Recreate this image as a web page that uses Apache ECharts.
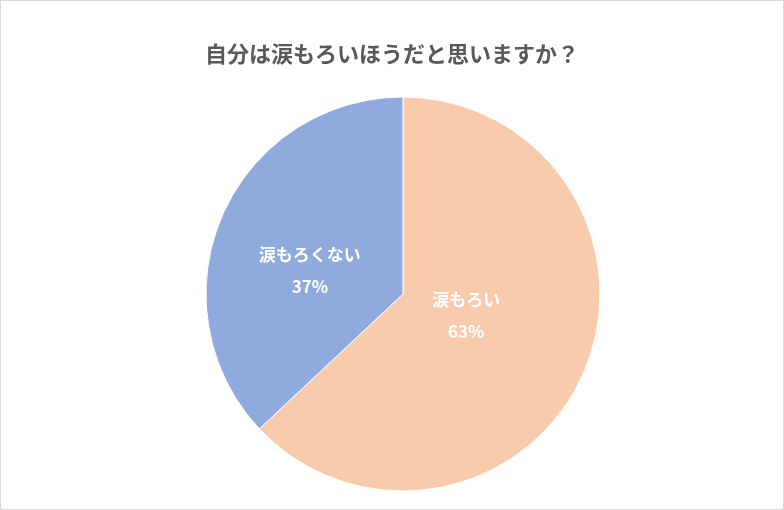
<!DOCTYPE html>
<html><head><meta charset="utf-8">
<script src="https://cdn.jsdelivr.net/npm/echarts@6/dist/echarts.min.js"></script>
<style>html,body{margin:0;padding:0;background:#fff}#c{width:784px;height:510px;box-sizing:border-box;border:1px solid #d9d9d9}</style>
</head><body><div id="c"></div>
<script>
const titleText = '自分は涙もろいほうだと思いますか？';
const categories = ['涙もろい', '涙もろくない'];
const values = [63, 37];
const colors = ['#F8CBAD', '#8FAADC'];
const labelShift = [[-30, -19], [0, 17]];

const chart = echarts.init(document.getElementById('c'));
chart.setOption({
  animation: false,
  title: {text: titleText, left: 'center', top: 37,
    textStyle: {color: '#595959', fontSize: 22, fontWeight: 'bold', fontFamily: 'Noto Sans CJK JP'}},
  series: [{
    type: 'pie', center: [402, 293], radius: 197, startAngle: 90, clockwise: true,
    data: categories.map((c, i) => ({name: c, value: values[i], itemStyle: {color: colors[i]},
      label: {offset: labelShift[i]}})),
    itemStyle: {borderColor: '#fff', borderWidth: 1},
    label: {position: 'inside', formatter: p => p.name + '\n' + p.value + '%', color: '#fff',
      fontSize: 17, fontWeight: 'bold', lineHeight: 32, fontFamily: 'Noto Sans CJK JP'},
    labelLine: {show: false}
  }]
});
</script></body></html>
